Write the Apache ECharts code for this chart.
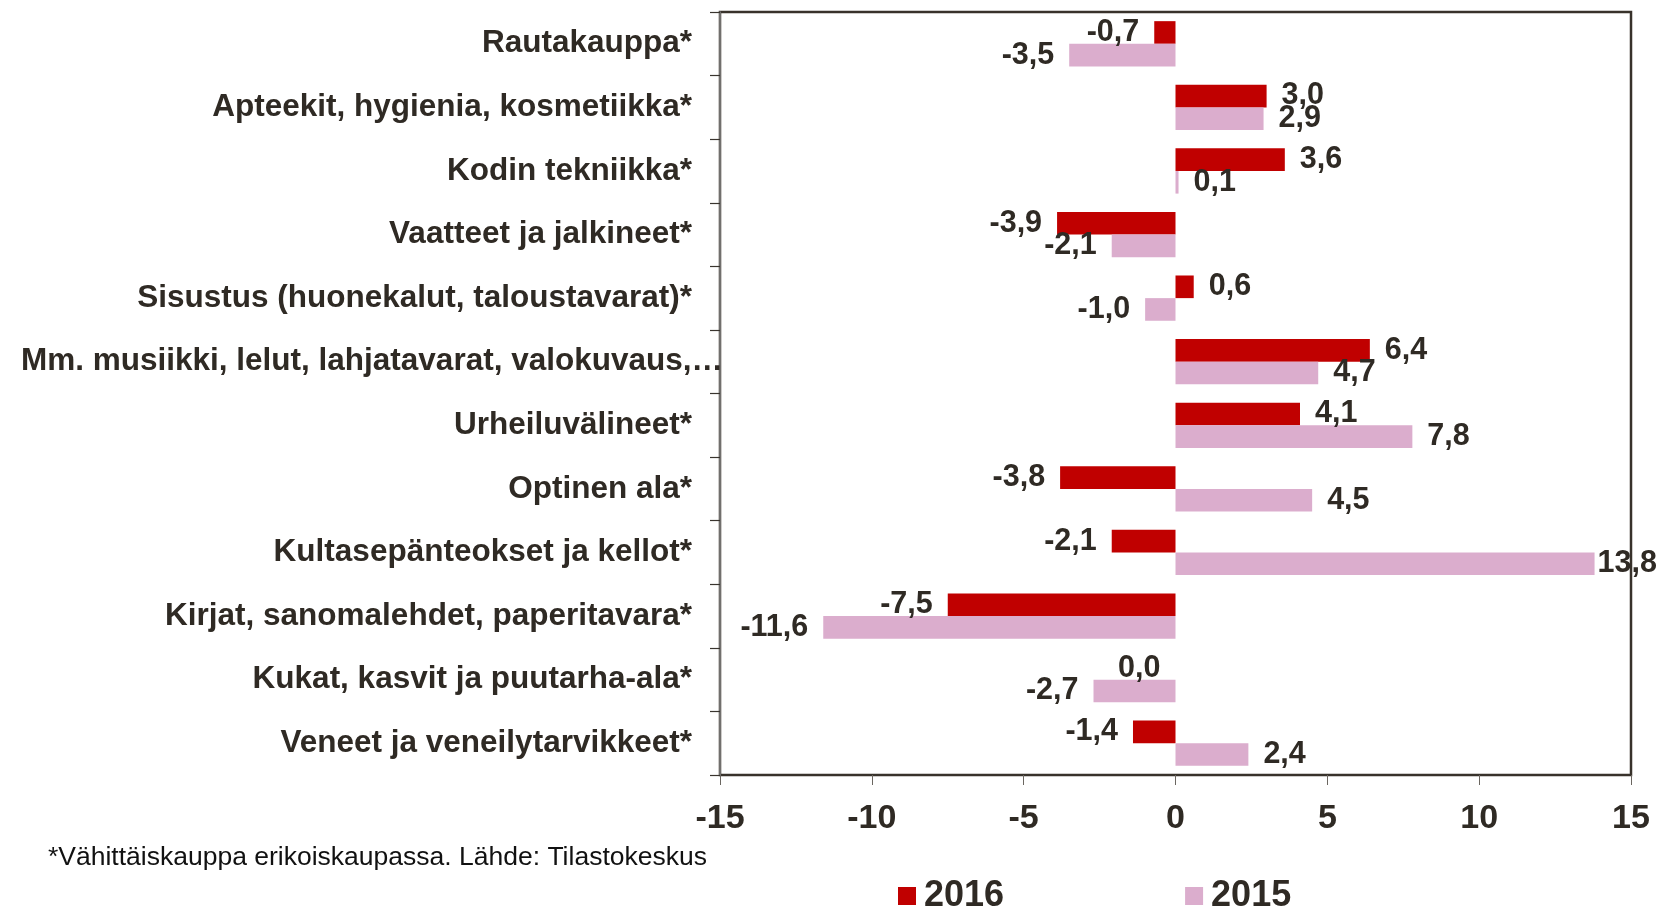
<!DOCTYPE html>
<html>
<head>
<meta charset="utf-8">
<script src="https://cdn.jsdelivr.net/npm/echarts@6/dist/echarts.min.js"></script>
<style>
html,body{margin:0;padding:0;background:#fff;}
#c{width:1663px;height:908px;}
</style>
</head>
<body>
<div id="c"></div>
<script>
const categories = [
  'Rautakauppa*',
  'Apteekit, hygienia, kosmetiikka*',
  'Kodin tekniikka*',
  'Vaatteet ja jalkineet*',
  'Sisustus (huonekalut, taloustavarat)*',
  'Mm. musiikki, lelut, lahjatavarat, valokuvaus,\u2026',
  'Urheiluvälineet*',
  'Optinen ala*',
  'Kultasepänteokset ja kellot*',
  'Kirjat, sanomalehdet, paperitavara*',
  'Kukat, kasvit ja puutarha-ala*',
  'Veneet ja veneilytarvikkeet*'
];
const values2016 = [-0.7, 3.0, 3.6, -3.9, 0.6, 6.4, 4.1, -3.8, -2.1, -7.5, 0.0, -1.4];
const values2015 = [-3.5, 2.9, 0.1, -2.1, -1.0, 4.7, 7.8, 4.5, 13.8, -11.6, -2.7, 2.4];
const xTicks = { min: -15, max: 15, interval: 5 };
const seriesNames = ['2016', '2015'];
const footnote = '*Vähittäiskauppa erikoiskaupassa. Lähde: Tilastokeskus';

const FONT = '"Liberation Sans", Arial, sans-serif';
const TXT = '#2f2a24';
const fmt = v => v.toFixed(1).replace('.', ',');

function buildData(vals) {
  return vals.map(v => ({
    value: v,
    label: {
      position: v > 0 ? 'right' : 'left',
      distance: v > 13 ? 3 : 15
    }
  }));
}

const catData = categories.map((c, i) => {
  if (c.length > 40) {
    return { value: c, textStyle: { padding: [0, -31, 0, 0] } };
  }
  return c;
});

const labelStyle = {
  show: true,
  formatter: p => fmt(p.value),
  fontFamily: FONT,
  fontSize: 30.5,
  fontWeight: 'bold',
  color: TXT
};

const chart = echarts.init(document.getElementById('c'), null, { renderer: 'canvas' });
chart.setOption({
  animation: false,
  backgroundColor: '#fff',
  title: {
    text: footnote,
    left: 43,
    top: 839,
    textStyle: { fontFamily: FONT, fontSize: 26.5, fontWeight: 'normal', color: '#111' }
  },
  legend: {
    data: seriesNames,
    left: 893,
    top: 873,
    icon: 'rect',
    itemWidth: 18,
    itemHeight: 18,
    itemGap: 181,
    textStyle: { fontFamily: FONT, fontSize: 36, fontWeight: 'bold', color: TXT, padding: [0, 0, 0, 3] }
  },
  grid: {
    left: 720,
    right: 32,
    top: 12,
    bottom: 133,
    show: true,
    borderColor: '#38322b',
    borderWidth: 2.5,
    backgroundColor: 'transparent',
    containLabel: false
  },
  xAxis: {
    type: 'value',
    min: xTicks.min,
    max: xTicks.max,
    interval: xTicks.interval,
    axisLine: { show: false },
    axisTick: { show: true, length: 10, lineStyle: { color: '#6b6660', width: 1 } },
    splitLine: { show: false },
    axisLabel: {
      fontFamily: FONT, fontSize: 34, fontWeight: 'bold', color: TXT, margin: 27,
      formatter: v => String(v)
    }
  },
  yAxis: [
    {
      type: 'category',
      data: catData,
      inverse: true,
      position: 'left',
      axisLine: { show: false },
      axisTick: { show: false },
      splitLine: { show: false },
      axisLabel: {
        fontFamily: FONT, fontSize: 31.5, fontWeight: 'bold', color: TXT, margin: 28
      }
    },
    {
      type: 'category',
      data: categories,
      inverse: true,
      position: 'left',
      axisLine: { show: true, onZero: true, lineStyle: { color: '#858585', width: 1.5 } },
      axisTick: { show: true, length: 10, lineStyle: { color: '#3a352f', width: 1.2 } },
      axisLabel: { show: false },
      splitLine: { show: false }
    }
  ],
  series: [
    {
      name: seriesNames[0],
      type: 'bar',
      yAxisIndex: 0,
      data: buildData(values2016),
      barCategoryGap: '28.8%',
      barGap: '0%',
      itemStyle: { color: '#c00000' },
      label: labelStyle,
      z: 3
    },
    {
      name: seriesNames[1],
      type: 'bar',
      yAxisIndex: 0,
      data: buildData(values2015),
      barCategoryGap: '28.8%',
      barGap: '0%',
      itemStyle: { color: '#dbadcd' },
      label: labelStyle,
      z: 3
    }
  ]
});
</script>
</body>
</html>
